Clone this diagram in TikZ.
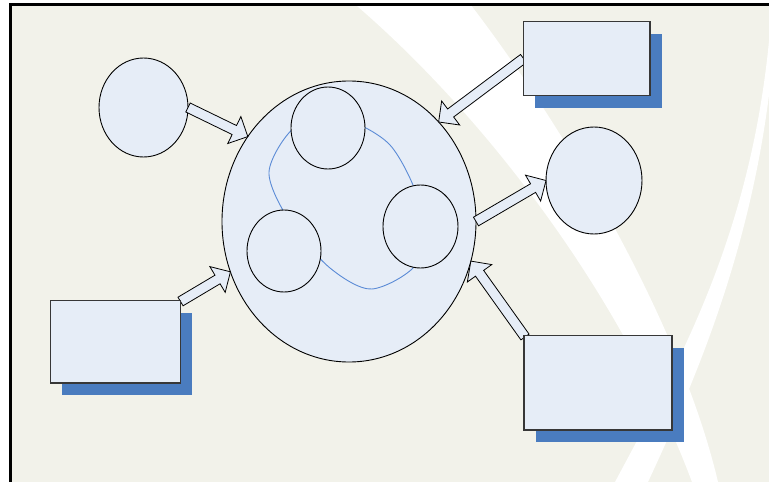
\documentclass[tikz,border=0pt]{standalone}
\usetikzlibrary{shapes.geometric,calc,shadows}
\definecolor{bgbeige}{RGB}{242,242,234}
\definecolor{boxfill}{RGB}{230,237,247}
\definecolor{shadowblue}{RGB}{74,124,191}
\definecolor{loopblue}{RGB}{91,139,214}
\definecolor{boxline}{RGB}{55,55,55}
\newcommand\blkarrow[2]{%
  \path ($(#2)!15pt!(#1)$) coordinate (ab);
  \draw[blockarrow] ($(#1)!5pt!90:(#2)$) -- ($(ab)!5pt!-90:(#1)$) -- ($(ab)!15pt!-90:(#1)$) -- (#2) -- ($(ab)!15pt!90:(#1)$) -- ($(ab)!5pt!90:(#1)$) -- ($(#1)!5pt!-90:(#2)$) -- cycle;}
\begin{document}
\begin{tikzpicture}[x=1pt,y=-1pt,
  oval/.style={ellipse, draw=black, line width=0.9pt, fill=boxfill, inner sep=0pt, outer sep=0pt},
  infobox/.style={rectangle, draw=boxline, line width=1.3pt, fill=boxfill, inner sep=0pt, outer sep=0pt,
    drop shadow={shadow xshift=11.5pt, shadow yshift=-12pt, fill=shadowblue, opacity=1, draw=none}},
  blockarrow/.style={draw=black, line width=0.8pt, fill=boxfill, line join=miter},
  swoosh/.style={fill=white}]
\useasboundingbox (0,0) rectangle (769,482);
\clip (0,0) rectangle (769,482);
\fill[white] (0,0) rectangle (769,482);
\draw[fill=bgbeige, line width=3pt] (10.5,4.5) rectangle (800,510);
\begin{scope}
  \clip (12,6) rectangle (769,482);
  \fill[swoosh] (350,0) .. controls (480,110) and (620,290) .. (692,482) -- (696,500) -- (724,500) -- (718,482) .. controls (680,320) and (560,120) .. (467,0) -- cycle;
  \fill[swoosh] (771,18) .. controls (755,230) and (680,360) .. (615,482) -- (610,500) -- (645,500) -- (648,482) .. controls (700,370) and (765,220) .. (776,18) -- cycle;
\end{scope}
% big circle and inner loop
\node[oval, minimum width=254pt, minimum height=281pt] (big) at (349,221.5) {};
\draw[loopblue, line width=0.9pt] plot[smooth cycle] coordinates {(269,172) (295,127) (340,118) (390,145) (420,205) (418,262) (372,289) (330,268) (290,222)};
\node[oval, minimum width=74pt, minimum height=82pt] (it) at (328,128) {};
\node[oval, minimum width=75pt, minimum height=83pt] (ir) at (420.5,226.5) {};
\node[oval, minimum width=74pt, minimum height=82pt] (il) at (284,251) {};
% outer circles
\node[oval, minimum width=89pt, minimum height=99pt] (c1) at (143.5,107.5) {};
\node[oval, minimum width=96pt, minimum height=107pt] (c2) at (594,180.5) {};
% box anchors (coordinates for arrows)
\coordinate (b1w) at (523.5,58.5);
\coordinate (b2ne) at (180.5,301.5);
\coordinate (b3nw) at (525,337);
% arrows
\blkarrow{c1.east}{big.140}
\blkarrow{b1w}{big.48}
\blkarrow{big.east}{c2.west}
\blkarrow{b3nw}{big.-18}
\blkarrow{b2ne}{big.203}
% boxes
\node[infobox, minimum width=126.5pt, minimum height=74pt] (b1) at (586.75,58.5) {};
\node[infobox, minimum width=130pt, minimum height=82.5pt] (b2) at (115.5,341.75) {};
\node[infobox, minimum width=148pt, minimum height=94.5pt] (b3) at (598,382.75) {};
\end{tikzpicture}
\end{document}
